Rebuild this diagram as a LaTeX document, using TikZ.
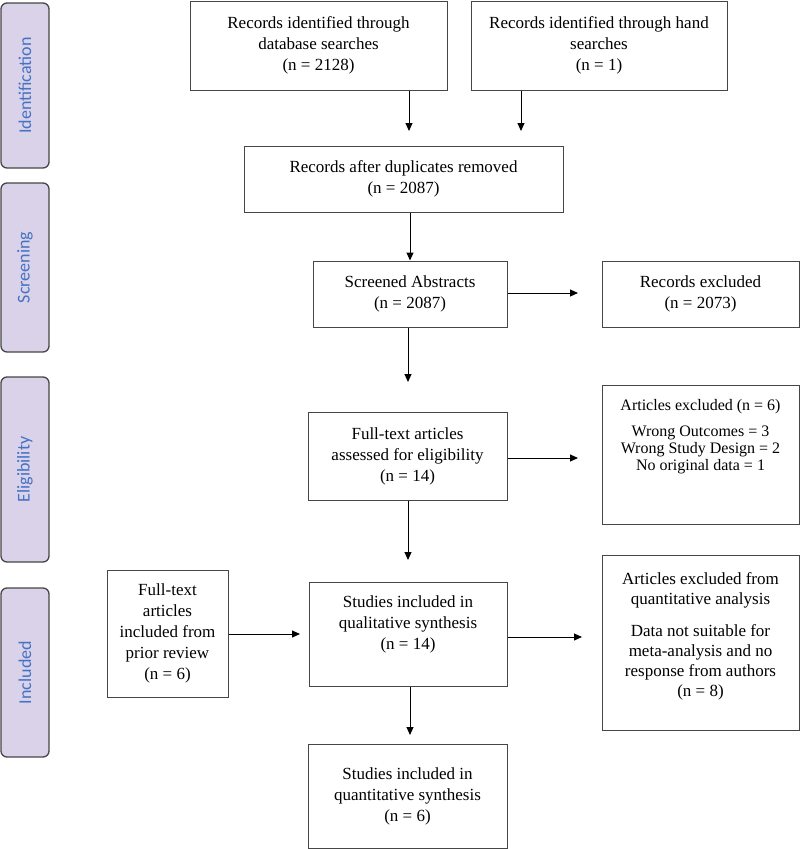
\documentclass[tikz,border=0pt]{standalone}
\usepackage{fontspec}
\setmainfont{Liberation Serif}
\newfontfamily\stagefont{Carlito}
\usetikzlibrary{arrows.meta}
\definecolor{stagefill}{RGB}{217,210,233}
\definecolor{stagetext}{RGB}{68,114,196}
\definecolor{frame}{RGB}{70,70,70}
\tikzset{
	stage/.style={draw=frame, fill=stagefill, rounded corners=6pt, line width=1.3pt, rotate=90, minimum height=48pt, text=stagetext, font=\stagefont\fontsize{18}{22}\selectfont},
	box/.style={draw=frame, line width=1pt, align=center, inner sep=0pt, font=\fontsize{17}{21}\selectfont},
	arr/.style={-{Triangle[length=8pt,width=7pt]}, line width=1pt}
}

\begin{document}
\begin{tikzpicture}[x=1pt, y=-1pt]
			%%%%% START %%%%%
			\useasboundingbox (0,0) rectangle (800,849);
			
			\node[stage, minimum width=165pt] (ident) at (25,85.5) {Identification};
			\node[stage, minimum width=169pt] (screen) at (25,267.5) {Screening};
			\node[stage, minimum width=185pt] (elig) at (25,469.5) {Eligibility};
			\node[stage, minimum width=169pt] (incl) at (25,672.5) {Included};
			
			\node[box, minimum width=257pt, minimum height=89pt] (db) at (318.5,45.5) {Records identified through\\database searches\\(n = 2128)};
			\node[box, minimum width=256pt, minimum height=89pt] (hand) at (599,45.5) {Records identified through hand\\searches\\(n = 1)};
			\node[box, minimum width=319pt, minimum height=66pt] (dup) at (403.5,179) {Records after duplicates removed\\(n = 2087)};
			
			\node[box, minimum width=194pt, minimum height=66pt] (scr) at (410,294) {Screened Abstracts\\(n = 2087)};
			\node[box, minimum width=197pt, minimum height=66pt] (recex) at (700.5,294) {Records excluded\\(n = 2073)};
			
			\node[box, minimum width=199pt, minimum height=88pt] (full) at (407.5,456) {Full-text articles\\assessed for eligibility\\(n = 14)};
			\node[box, minimum width=197pt, minimum height=139pt, font=\fontsize{16}{17}\selectfont] (artex) at (700.5,454.5) {Articles excluded (n = 6)\\[9pt]Wrong Outcomes = 3\\Wrong Study Design = 2\\No original data = 1\\[22pt]\mbox{}};
			
			\node[box, minimum width=121pt, minimum height=127pt] (prior) at (167.5,633.5) {Full-text\\articles\\included from\\prior review\\(n = 6)};
			\node[box, minimum width=198pt, minimum height=104pt] (qual) at (408,634) {Studies included in\\qualitative synthesis\\(n = 14)\\[1pt]\mbox{}};
			\node[box, minimum width=197pt, minimum height=175pt, font=\fontsize{17}{20}\selectfont] (quantex) at (700.5,642.5) {Articles excluded from\\quantitative analysis\\[12pt]Data not suitable for\\meta-analysis and no\\response from authors\\(n = 8)\\[-4pt]\mbox{}};
			
			\node[box, minimum width=199pt, minimum height=104pt] (quant) at (407.5,796) {Studies included in\\quantitative synthesis\\(n = 6)};
			
			% arrow ends
			\coordinate (dbend) at (409,131);
			\coordinate (handend) at (521,131);
			\coordinate (scrend) at (408,382);
			\coordinate (recend) at (578,293);
			\coordinate (artend) at (578,458);
			\coordinate (fullend) at (408,560);
			\coordinate (priorend) at (300,634);
			\coordinate (qualend) at (582,637);
			\coordinate (quantend) at (410,735);
			
			\draw[arr] (db.south -| dbend) -- (dbend);
			\draw[arr] (hand.south -| handend) -- (handend);
			\draw[arr] (dup.south -| scr.north) -- (scr.north);
			\draw[arr] (scr.south -| scrend) -- (scrend);
			\draw[arr] (scr.east |- recend) -- (recend);
			\draw[arr] (full.east |- artend) -- (artend);
			\draw[arr] (full.south -| fullend) -- (fullend);
			\draw[arr] (prior.east |- priorend) -- (priorend);
			\draw[arr] (qual.east |- qualend) -- (qualend);
			\draw[arr] (qual.south -| quantend) -- (quantend);
			
			%%%%% END %%%%%
\end{tikzpicture}
\end{document}
